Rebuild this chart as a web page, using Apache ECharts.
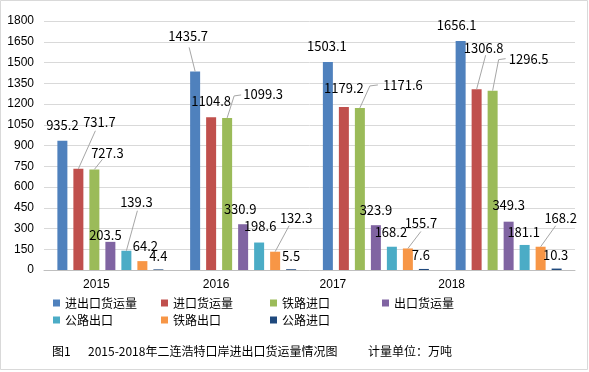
<!DOCTYPE html>
<html><head><meta charset="utf-8">
<script src="https://cdn.jsdelivr.net/npm/echarts@6/dist/echarts.min.js"></script>
<style>html,body{margin:0;padding:0;background:#fff}#c{width:589px;height:372px}</style>
</head><body><div id="c"></div>
<script>
const categories = ['2015', '2016', '2017', '2018'];
const seriesNames = ['进出口货运量', '进口货运量', '铁路进口', '出口货运量', '公路出口', '铁路出口', '公路进口'];
const totalTrade = [935.2, 1435.7, 1503.1, 1656.1];
const importTotal = [731.7, 1104.8, 1179.2, 1306.8];
const railImport = [727.3, 1099.3, 1171.6, 1296.5];
const exportTotal = [203.5, 330.9, 323.9, 349.3];
const roadExport = [139.3, 198.6, 168.2, 181.1];
const railExport = [64.2, 132.3, 155.7, 168.2];
const roadImport = [4.4, 5.5, 7.6, 10.3];
const yTicks = [0, 150, 300, 450, 600, 750, 900, 1050, 1200, 1350, 1500, 1650, 1800];
const titleMain = '2015-2018年二连浩特口岸进出口货运量情况图';
const titleFig = '图1';
const titleUnit = '计量单位：万吨';

const colors = ['#4F81BD', '#C0504D', '#9BBB59', '#8064A2', '#4BACC6', '#F79646', '#1F497D'];
const values = [totalTrade, importTotal, railImport, exportTotal, roadExport, railExport, roadImport];

// label nudges (dx, dy) relative to the default 'top' label position
const labelShift = [
  [[0, -4], [-7, -24], [-1, -5], [-4, -4]],
  [[21, -35], [0, -5], [0, -7], [7, -30]],
  [[13, -5], [36, -12], [43, -11], [36, -20]],
  [[-5, 5], [-3, -4], [0, -4], [0, -5]],
  [[10, -37], [1, -5], [-1, -3], [-1, -1]],
  [[3, -4], [21, -22], [13, -14], [20, -17]],
  [[0, -2], [0, -2], [-3, -2], [-1, -2]]
];
// leader lines: series index, category index, bends relative to the bar top (px)
const leaderLines = [
  { s: 1, c: 0, pts: [[17, -38]] },
  { s: 2, c: 0, pts: [[8, -10]] },
  { s: 4, c: 0, pts: [[11, -40]] },
  { s: 0, c: 1, pts: [[-6, -24]] },
  { s: 2, c: 1, pts: [[7, -22], [14, -23]] },
  { s: 5, c: 1, pts: [[14, -26]] },
  { s: 2, c: 2, pts: [[10, -22], [18, -23]] },
  { s: 5, c: 2, pts: [[13, -17]] },
  { s: 1, c: 3, pts: [[9, -34]] },
  { s: 2, c: 3, pts: [[6, -31], [13, -32]] },
  { s: 5, c: 3, pts: [[15, -21]] }
];
const barWidth = 10, barStep = 16;
// horizontal nudge of each category label (the source draws them left of the bar groups)
const catLabelShift = [14, 27, 43, 57];
const catLabelDrop = 15;
// legend placement (icon left edge, row top)
const legendPos = [[53, 297], [161, 297], [270, 297], [382, 297], [53, 314], [161, 314], [270, 314]];

const chart = echarts.init(document.getElementById('c'));
const series = seriesNames.map((name, si) => ({
  name: name,
  type: 'bar',
  barWidth: barWidth,
  barGap: ((barStep - barWidth) / barWidth * 100) + '%',
  itemStyle: { color: colors[si] },
  data: values[si].map((v, di) => ({
    value: v,
    label: { offset: labelShift[si][di] }
  })),
  label: {
    show: true,
    position: 'top',
    distance: 5,
    color: '#000',
    fontSize: 13,
    fontFamily: 'Noto Sans CJK SC, Liberation Sans, sans-serif'
  }
}));

series.push({
  type: 'custom',
  name: 'leaders',
  silent: true,
  z: 3,
  clip: false,
  data: leaderLines.map((l, i) => [l.c, values[l.s][l.c], i]),
  renderItem: function (params, api) {
    const l = leaderLines[api.value(2)];
    const base = api.coord([api.value(0), api.value(1)]);
    const x = base[0] + (l.s - (seriesNames.length - 1) / 2) * barStep;
    const y = base[1];
    const points = [[x, y]].concat(l.pts.map(p => [x + p[0], y + p[1]]));
    return {
      type: 'polyline',
      shape: { points: points },
      style: { stroke: '#a6a6a6', lineWidth: 1, fill: null }
    };
  }
});

// category labels, placed from the category scale
series.push({
  type: 'custom',
  name: 'categoryLabels',
  silent: true,
  clip: false,
  z: 3,
  data: categories.map((c, i) => [i, yTicks[0]]),
  renderItem: function (params, api) {
    const i = api.value(0);
    const pt = api.coord([i, api.value(1)]);
    return {
      type: 'text',
      x: pt[0] - catLabelShift[i],
      y: pt[1] + catLabelDrop,
      style: {
        text: categories[i],
        align: 'center', verticalAlign: 'middle',
        fontSize: 12, lineHeight: 12, fontFamily: 'Liberation Sans, sans-serif',
        fill: '#000'
      }
    };
  }
});

const legends = seriesNames.map((n, i) => ({
  data: [n], left: legendPos[i][0], top: legendPos[i][1],
  icon: 'rect', itemWidth: 7, itemHeight: 7, itemGap: 0, padding: 0,
  textStyle: { fontSize: 12, lineHeight: 12, color: '#000', fontFamily: 'Noto Sans CJK SC, sans-serif' }
}));

chart.setOption({
  animation: false,
  backgroundColor: '#fff',
  color: colors,
  tooltip: { show: false },
  grid: { left: 44, right: 14, top: 21, bottom: 102 },
  xAxis: {
    type: 'category', data: categories,
    axisLine: { show: true, lineStyle: { color: '#bfbfbf' } },
    axisTick: { show: false },
    axisLabel: { show: false }
  },
  yAxis: {
    type: 'value', min: yTicks[0], max: yTicks[yTicks.length - 1],
    interval: yTicks[1] - yTicks[0],
    axisLine: { show: false }, axisTick: { show: false },
    splitLine: { lineStyle: { color: '#d9d9d9' } },
    axisLabel: {
      margin: 10, color: '#000', fontSize: 12, fontFamily: 'Liberation Sans, sans-serif',
      formatter: function (v) { return String(v); }
    }
  },
  legend: legends,
  title: {
    text: '{a|' + titleFig + '}{b|' + titleMain + '}{c|' + titleUnit + '}',
    left: 52, top: 345, padding: 0,
    textStyle: {
      fontWeight: 'normal',
      rich: {
        a: { fontSize: 12, fontWeight: 'normal', color: '#000', fontFamily: 'Noto Sans CJK SC, sans-serif', width: 36 },
        b: { fontSize: 12, fontWeight: 'normal', color: '#000', fontFamily: 'Noto Sans CJK SC, sans-serif', width: 280 },
        c: { fontSize: 12, fontWeight: 'normal', color: '#000', fontFamily: 'Noto Sans CJK SC, sans-serif' }
      }
    }
  },
  graphic: [{
    type: 'rect', silent: true, z: -1,
    shape: { x: 0.5, y: 0.5, width: 587, height: 369 },
    style: { fill: 'none', stroke: '#d9d9d9', lineWidth: 1 }
  }],
  series: series
});
</script>
</body></html>
